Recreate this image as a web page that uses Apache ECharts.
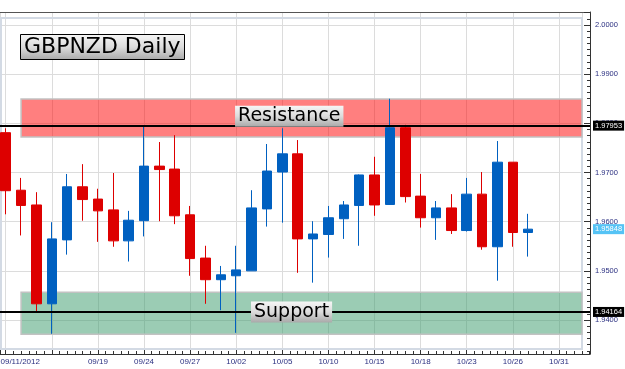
<!DOCTYPE html>
<html><head><meta charset="utf-8">
<script src="https://cdn.jsdelivr.net/npm/echarts@6/dist/echarts.min.js"></script>
<style>html,body{margin:0;padding:0;background:#fff}#c{width:625px;height:369px}</style>
</head><body><div id="c"></div>
<script>
// ---- data ----
const dates = ['09/11','09/12','09/13','09/14','09/17','09/18','09/19','09/20','09/21','09/24','09/25','09/26','09/27','09/28','10/01','10/02','10/03','10/04','10/05','10/08','10/09','10/10','10/11','10/12','10/15','10/16','10/17','10/18','10/19','10/22','10/23','10/24','10/25','10/26','10/29'];
const openP  = [1.9781,1.9664,1.9634,1.9433,1.9563,1.9671,1.9646,1.9624,1.9561,1.9602,1.9713,1.9707,1.9614,1.9526,1.9482,1.9490,1.9500,1.9626,1.9701,1.9738,1.9565,1.9574,1.9606,1.9633,1.9695,1.9635,1.9791,1.9652,1.9608,1.9628,1.9582,1.9656,1.9549,1.9721,1.9578];
const closeP = [1.9663,1.9633,1.9433,1.9565,1.9671,1.9645,1.9622,1.9561,1.9603,1.9713,1.9706,1.9612,1.9525,1.9482,1.9492,1.9502,1.9628,1.9703,1.9738,1.9565,1.9575,1.9608,1.9634,1.9695,1.9634,1.9791,1.9651,1.9608,1.9628,1.9582,1.9656,1.9549,1.9721,1.9578,1.95848];
const lowP   = [1.9615,1.9572,1.9415,1.9372,1.9533,1.9602,1.9559,1.9549,1.9519,1.9570,1.9601,1.9595,1.9490,1.9433,1.9420,1.9374,1.9500,1.9590,1.9598,1.9496,1.9476,1.9527,1.9565,1.9551,1.9612,1.9634,1.9639,1.9588,1.9563,1.9575,1.9580,1.9543,1.9480,1.9549,1.9529];
const highP  = [1.9790,1.9689,1.9660,1.9599,1.9697,1.9717,1.9667,1.9699,1.9622,1.9796,1.9762,1.9776,1.9632,1.9551,1.9510,1.9551,1.9664,1.9758,1.9790,1.9766,1.9601,1.9632,1.9642,1.9696,1.9732,1.9850,1.9797,1.9697,1.9642,1.9656,1.9689,1.9701,1.9764,1.9721,1.9616];
const tickDays   = [0,3,6,9,12,15,18,21,24,27,30,33,36];
const tickLabels = ['09/11/2012','','09/19','09/24','09/27','10/02','10/05','10/10','10/15','10/18','10/23','10/26','10/31'];
const resistanceLevel = 1.97953;
const supportLevel = 1.94164;
const resistanceZone = [1.97722, 1.98495];
const supportZone = [1.93710, 1.94564];
const zoneStartDay = 1;
const labelDay = [18.45, 18.6];
const titleText = 'GBPNZD Daily';
const resistanceText = 'Resistance';
const supportText = 'Support';

// ---- axis ranges ----
const X_MIN = -0.371, X_MAX_FRAME = 38.02, X_MAX_INNER = 37.50;
const Y_MAX = 2.00264, Y_MIN_FRAME = 1.93309, Y_MIN_INNER = 1.93411;

const candles = dates.map((d, i) => [i, openP[i], closeP[i], lowP[i], highP[i]]);
const lastClose = closeP[closeP.length - 1];

const LBL = '#2a2f80';
const FONT_SMALL = 'Liberation Sans';
const boxGrad = () => new echarts.graphic.LinearGradient(0, 0, 0, 1, [
  {offset: 0, color: '#f6f6f6'}, {offset: 0.5, color: '#dcdcdc'}, {offset: 1, color: '#a9a9a9'}]);

const chart = echarts.init(document.getElementById('c'), null, {renderer: 'canvas'});
chart.setOption({
  animation: false,
  backgroundColor: '#fff',
  title: {
    text: titleText, left: 20, top: 34, padding: [2, 4],
    backgroundColor: boxGrad(), borderColor: '#000', borderWidth: 1,
    textStyle: {fontSize: 22, fontFamily: 'DejaVu Sans', fontWeight: 'normal', color: '#000'}
  },
  grid: [
    {left: 0, right: 35, top: 12, bottom: 15, outerBoundsMode: 'none', containLabel: false},
    {left: 0, right: 43, top: 12, bottom: 20, outerBoundsMode: 'none', containLabel: false}
  ],
  graphic: [{
    type: 'rect', z: 1, silent: true,
    shape: {x: 1, y: 18, width: 581, height: 331},
    style: {fill: 'none', stroke: '#d3dae4', lineWidth: 2}
  }],
  xAxis: [
    {gridIndex: 0, type: 'value', min: X_MIN, max: X_MAX_FRAME, splitNumber: 13, position: 'bottom',
     axisLine: {show: true, onZero: false, lineStyle: {color: '#333', width: 1}},
     axisTick: {show: true, inside: true, length: 6, lineStyle: {color: '#333'}},
     minorTick: {show: true, splitNumber: 6, length: 3, lineStyle: {color: '#333'}},
     splitLine: {show: false},
     axisLabel: {show: true, showMinLabel: false, showMaxLabel: false, margin: 4, fontSize: 8,
       fontFamily: FONT_SMALL, color: LBL,
       formatter: v => {
         const r = Math.round(v);
         if (Math.abs(v - r) > 1e-6) return '';
         const k = tickDays.indexOf(r);
         if (k < 0) return '';
         return k === 0 ? '{first|' + tickLabels[k] + '}' : tickLabels[k];
       },
       rich: {first: {padding: [0, 0, 0, 29], fontSize: 8, fontFamily: FONT_SMALL, color: LBL}}
     }},
    {gridIndex: 1, type: 'value', min: X_MIN, max: X_MAX_INNER, splitNumber: 13,
     axisLine: {show: false}, axisTick: {show: false}, axisLabel: {show: false},
     splitLine: {show: true, lineStyle: {color: '#dcdcdc', width: 1}}},
    {gridIndex: 0, type: 'value', min: X_MIN, max: X_MAX_FRAME, position: 'top',
     axisLine: {show: true, onZero: false, lineStyle: {color: '#555', width: 1}},
     axisTick: {show: false}, axisLabel: {show: false}, splitLine: {show: false}}
  ],
  yAxis: [
    {gridIndex: 0, type: 'value', position: 'right', min: Y_MIN_FRAME, max: Y_MAX, splitNumber: 7,
     axisLine: {show: true, onZero: false, lineStyle: {color: '#333', width: 1}},
     axisTick: {show: true, inside: true, length: 6, lineStyle: {color: '#333'}},
     minorTick: {show: true, splitNumber: 8, length: 3, lineStyle: {color: '#333'}},
     splitLine: {show: false},
     axisLabel: {show: true, showMinLabel: false, showMaxLabel: false, margin: 5, fontSize: 7.5,
       fontFamily: FONT_SMALL, color: LBL, formatter: v => v.toFixed(4)}},
    {gridIndex: 1, type: 'value', min: Y_MIN_INNER, max: Y_MAX, splitNumber: 7,
     axisLine: {show: false, onZero: false}, axisTick: {show: false}, axisLabel: {show: false},
     splitLine: {show: true, lineStyle: {color: '#dcdcdc', width: 1}}}
  ],
  series: [
    {
      type: 'candlestick', xAxisIndex: 1, yAxisIndex: 1, data: candles, barWidth: 10, clip: false, z: 3,
      itemStyle: {color: '#0060c0', color0: '#dd0000', borderColor: '#0060c0', borderColor0: '#dd0000', borderWidth: 1},
      markArea: {
        silent: true, z: 1,
        data: [
          [{xAxis: zoneStartDay, yAxis: resistanceZone[1],
            itemStyle: {color: 'rgba(255,0,0,0.5)', borderColor: '#c2c2c2', borderWidth: 1.5}},
           {xAxis: X_MAX_INNER, yAxis: resistanceZone[0]}],
          [{xAxis: zoneStartDay, yAxis: supportZone[1],
            itemStyle: {color: 'rgba(55,153,105,0.5)', borderColor: '#c2c2c2', borderWidth: 1.5}},
           {xAxis: X_MAX_INNER, yAxis: supportZone[0]}]
        ]
      }
    },
    {
      type: 'line', xAxisIndex: 0, yAxisIndex: 0, data: [], z: 5,
      markLine: {
        silent: true, symbol: ['none', 'none'], animation: false, precision: 5,
        lineStyle: {color: '#000', width: 2, type: 'solid'},
        label: {show: true, position: 'end', distance: 3, formatter: p => Number(p.value).toFixed(5),
          fontSize: 7.5, fontFamily: FONT_SMALL, color: '#fff', backgroundColor: '#000', padding: [1, 2]},
        data: [
          {yAxis: resistanceLevel},
          {yAxis: supportLevel},
          {yAxis: lastClose, lineStyle: {color: 'rgba(0,0,0,0)', width: 0},
           label: {backgroundColor: '#55c3f5', color: '#fff'}}
        ]
      }
    },
    {
      type: 'line', xAxisIndex: 0, yAxisIndex: 0, data: [], z: 10,
      markPoint: {
        silent: true, symbol: 'rect', symbolSize: 1, itemStyle: {color: 'rgba(0,0,0,0)'}, animation: false,
        data: [
          {coord: [labelDay[0], resistanceLevel], value: resistanceText,
           label: {show: true, position: 'top', distance: -1.5, formatter: resistanceText,
             fontSize: 19, fontFamily: 'DejaVu Sans', color: '#000', padding: [1, 3],
             backgroundColor: boxGrad()}},
          {coord: [labelDay[1], supportLevel], value: supportText,
           label: {show: true, position: 'inside', formatter: supportText,
             fontSize: 19, fontFamily: 'DejaVu Sans', color: '#000', padding: [1, 3],
             backgroundColor: boxGrad()}}
        ]
      }
    }
  ]
});
</script>
</body></html>
